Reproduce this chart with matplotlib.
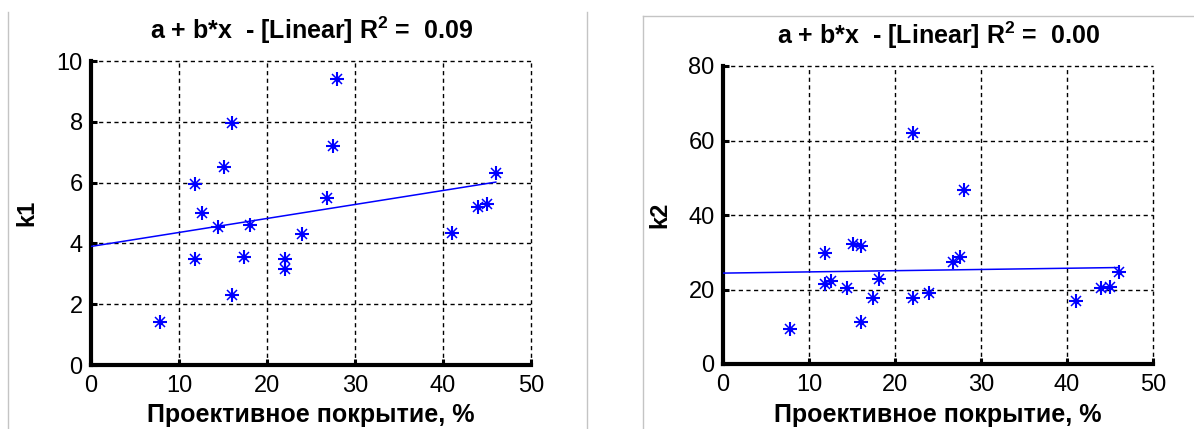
import numpy as np
import matplotlib
matplotlib.use("Agg")
import matplotlib.pyplot as plt
from matplotlib.lines import Line2D

# ---- data ----
cover = [7.8, 11.85, 11.85, 12.6, 14.4, 15.1, 16.0, 16.0, 17.4, 18.1,
         22.1, 22.1, 24.0, 26.8, 27.5, 28.0, 41.0, 44.0, 45.0, 46.0]
k1 = [1.42, 5.95, 3.5, 5.0, 4.55, 6.5, 7.95, 2.3, 3.55, 4.6,
      3.5, 3.15, 4.3, 5.5, 7.2, 9.4, 4.35, 5.2, 5.3, 6.3]
k2 = [9.3, 29.8, 21.6, 22.3, 20.4, 32.2, 31.7, 11.3, 17.6, 22.8,
      62.0, 17.7, 19.0, 27.5, 28.8, 46.7, 17.0, 20.5, 20.7, 24.8]

fit_a1, fit_b1 = 3.90, 0.046
fit_a2, fit_b2 = 24.4, 0.0326
r2_k1 = "0.09"
r2_k2 = "0.00"

xticks = [0, 10, 20, 30, 40, 50]
yticks_k1 = [0, 2, 4, 6, 8, 10]
yticks_k2 = [0, 20, 40, 60, 80]
xlabel = "Проективное покрытие, %"

plt.rcParams['font.family'] = ['Liberation Sans', 'DejaVu Sans']
plt.rcParams['mathtext.fontset'] = 'custom'
plt.rcParams['mathtext.rm'] = 'Liberation Sans'
plt.rcParams['mathtext.bf'] = 'Liberation Sans:bold'

W, H = 1194, 429
fig = plt.figure(figsize=(W / 100, H / 100), dpi=100)
fig.patch.set_facecolor('white')

def px_axes(x0, x1, ytop, ybot):
    return fig.add_axes([x0 / W, (H - ybot) / H, (x1 - x0) / W, (ybot - ytop) / H])

axL = px_axes(91, 531, 61, 365)
axR = px_axes(723, 1153, 66, 364)

BLUE = '#0000ff'

def draw(ax, y, a, b, r2, yticks, ylab, title_pad, ylab_x, xlab_pad):
    ax.set_xlim(0, 50)
    ax.set_ylim(yticks[0], yticks[-1])
    ax.set_xticks(xticks)
    ax.set_yticks(yticks)
    ax.tick_params(direction='in', length=4, width=2.2, labelsize=17,
                   colors='black', pad=7)
    ax.tick_params(axis='y', pad=6)
    for s in ['top', 'right']:
        ax.spines[s].set_visible(False)
    for s in ['left', 'bottom']:
        ax.spines[s].set_linewidth(3.0)
        ax.spines[s].set_color('black')
    ax.grid(True, color='black', linestyle=(0, (3, 2.5)), linewidth=1.0)
    for gl in ax.get_xgridlines() + ax.get_ygridlines():
        gl.set_clip_on(False)
    ax.set_axisbelow(True)

    xs = np.array([0.0, max(cover)])
    ax.plot(xs, a + b * xs, color=BLUE, linewidth=1.1, zorder=3)
    ax.plot(cover, y, linestyle='none', marker='+', markersize=10.5,
            markeredgewidth=1.5, color=BLUE, zorder=4, clip_on=False)
    ax.plot(cover, y, linestyle='none', marker='x', markersize=6.5,
            markeredgewidth=1.1, color=BLUE, zorder=4, clip_on=False)
    ax.plot(cover, y, linestyle='none', marker='o', markersize=3,
            color=BLUE, zorder=5, clip_on=False)

    ax.set_title(r"a + b*x  - [Linear] R$^{\mathbf{2}}$ =  " + r2,
                 fontsize=18, fontweight='bold', pad=title_pad)
    ax.set_xlabel(xlabel, fontsize=18, fontweight='bold', labelpad=xlab_pad)
    ax.set_ylabel(ylab, fontsize=17, fontweight='bold')
    ax.yaxis.set_label_coords(ylab_x, 0.5)

draw(axL, k1, fit_a1, fit_b1, r2_k1, yticks_k1, 'k1', 15.8, -0.12, 4.5)
draw(axR, k2, fit_a2, fit_b2, r2_k2, yticks_k2, 'k2', 15.8, -0.12, 5.5)

# light grey panel borders
grey = '#c4c4c4'
def fline(xs, ys):
    fig.add_artist(Line2D([x / W for x in xs], [(H - y) / H for y in ys],
                          color=grey, linewidth=1.0))
fline([7.5, 7.5], [12, 429])
fline([587, 587], [12, 429])
fline([643, 643], [16, 429])
fline([643, 1194], [16, 16])

fig.savefig('out.png', dpi=100, facecolor='white')
